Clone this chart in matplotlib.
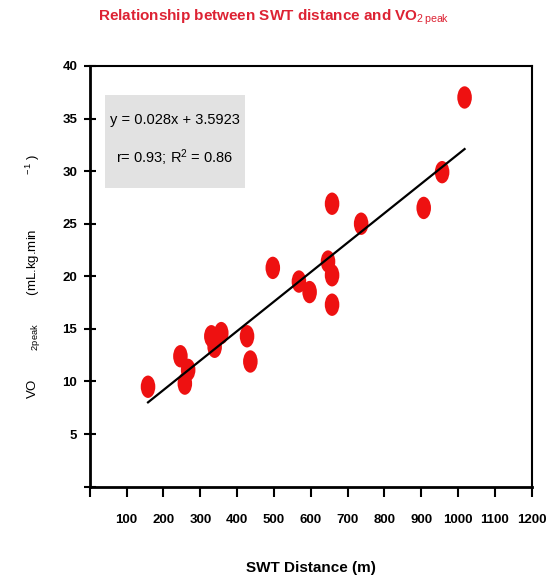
import numpy as np
import matplotlib
matplotlib.use("Agg")
import matplotlib.pyplot as plt
from matplotlib.path import Path
from matplotlib.patches import Rectangle
from matplotlib.transforms import Affine2D

# Data
swt_distance = [158, 246, 258, 267, 330, 339, 357, 427, 436, 497,
                568, 597, 647, 658, 658, 658, 737, 907, 957, 1018]
vo2_peak = [9.5, 12.4, 9.8, 11.1, 14.3, 13.3, 14.6, 14.3, 11.9, 20.8,
            19.5, 18.5, 21.4, 20.1, 17.3, 26.9, 25.0, 26.5, 29.9, 37.0]
slope = 0.028
intercept = 3.5923
x_ticks = [100, 200, 300, 400, 500, 600, 700, 800, 900, 1000, 1100, 1200]
y_ticks = [5, 10, 15, 20, 25, 30, 35, 40]

plt.rcParams['font.family'] = ['Liberation Sans', 'DejaVu Sans']
plt.rcParams['mathtext.fontset'] = 'custom'
plt.rcParams['mathtext.rm'] = 'Liberation Sans'
plt.rcParams['mathtext.it'] = 'Liberation Sans'

fig = plt.figure(figsize=(5.48, 5.86), dpi=100)
ax = fig.add_axes([0.164, 0.1695, 0.806, 0.718])

# tall oval markers, as in the picture
oval = Path.unit_circle().transformed(Affine2D().scale(0.65, 1.0))
ax.scatter(swt_distance, vo2_peak, marker=oval, s=260, color='#ee1111',
           edgecolors='none', zorder=3)

# regression line
xl = np.array([min(swt_distance), max(swt_distance)])
ax.plot(xl, slope * xl + intercept, color='black', lw=1.6, zorder=4)

ax.set_xlim(0, 1200)
ax.set_ylim(0, 40)
ax.set_xticks([0] + x_ticks, [''] + [str(t) for t in x_ticks])
ax.set_yticks([0] + y_ticks, [''] + [str(t) for t in y_ticks])
ax.tick_params(axis='x', direction='out', length=7, width=1.5, labelsize=9.5, pad=13)
ax.tick_params(axis='y', direction='inout', length=8, width=1.5, labelsize=9.5, pad=5)
for lab in ax.get_xticklabels() + ax.get_yticklabels():
    lab.set_fontweight('bold')
for side in ['left', 'bottom']:
    ax.spines[side].set_linewidth(2)
for side in ['right', 'top']:
    ax.spines[side].set_linewidth(1.5)

ax.set_xlabel('SWT Distance (m)', fontsize=11, fontweight='bold', labelpad=25)
ax.set_ylabel('VO        $_{2 peak}$        (mL.kg.min               $^{-1}$ )',
              fontsize=9.5, labelpad=14)

# equation box
ax.add_patch(Rectangle((0.034, 0.710), 0.317, 0.221, transform=ax.transAxes,
                       facecolor='#e2e2e2', edgecolor='none', zorder=2))
ax.text(0.192, 0.872, 'y = 0.028x + 3.5923', transform=ax.transAxes,
        ha='center', va='center', fontsize=10.5, zorder=5)
ax.text(0.192, 0.781, 'r= 0.93; R$^2$ = 0.86', transform=ax.transAxes,
        ha='center', va='center', fontsize=10.5, zorder=5)

fig.text(0.50, 0.971, 'Relationship between SWT distance and VO$_{2\\,peak}$',
         ha='center', va='center', fontsize=11, fontweight='bold', color='#dd2233')

fig.savefig('out.png', dpi=100)
